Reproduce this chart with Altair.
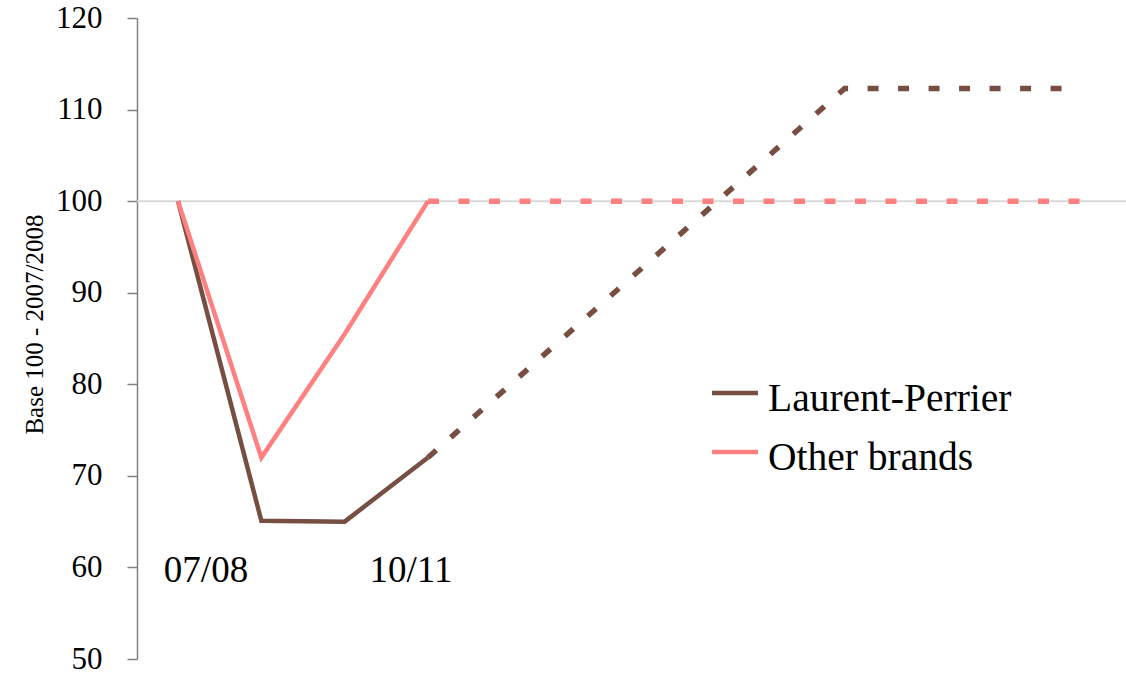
import altair as alt
import pandas as pd

# Season index: 0 = 2007/08, 3 = 2010/11, beyond = projection horizon
series_names = ["Laurent-Perrier", "Other brands"]
series_colors = ["#774E42", "#FF8080"]

actual_x = [0, 1, 2, 3]
lp_actual = [100.0, 65.1, 65.0, 72.0]
ob_actual = [100.0, 72.0, 85.5, 100.0]

lp_proj_x = [3, 8, 10.67]
lp_proj = [72.0, 112.3, 112.3]
ob_proj_x = [3, 10.85]
ob_proj = [100.0, 100.0]

season_labels = ["07/08", "10/11"]
season_label_x = [0, 3]

FONT = "Liberation Serif"


def frame(xs, ys, name):
    return pd.DataFrame({"x": xs, "value": ys, "series": name})


lp_a = frame(actual_x, lp_actual, series_names[0])
ob_a = frame(actual_x, ob_actual, series_names[1])
lp_p = frame(lp_proj_x, lp_proj, series_names[0])
ob_p = frame(ob_proj_x, ob_proj, series_names[1])

x_scale = alt.Scale(domain=[-0.492, 11.376], nice=False, zero=False)
y_scale = alt.Scale(domain=[50, 120], nice=False, zero=False)
color_scale = alt.Scale(domain=series_names, range=series_colors)

x_enc = alt.X("x:Q", scale=x_scale, axis=None)
y_enc = alt.Y(
    "value:Q",
    scale=y_scale,
    axis=alt.Axis(
        values=[50, 60, 70, 80, 90, 100, 110, 120],
        title="Base 100 - 2007/2008",
        titleFont=FONT,
        titleFontSize=25,
        titleFontWeight="normal",
        titleColor="black",
        titleAngle=-90,
        titleX=-95,
        titleY=306,
        titleAlign="center",
        titleBaseline="alphabetic",
        labelFont=FONT,
        labelFontSize=31,
        labelColor="black",
        labelPadding=25,
        tickSize=10,
        tickColor="#808080",
        tickWidth=1.5,
        domainColor="#808080",
        domainWidth=1.5,
        grid=False,
    ),
)

# Reference line at the base-100 level
base_line = (
    alt.Chart(pd.DataFrame({"value": [100]}))
    .mark_rule(color="#D9D9D9", strokeWidth=2)
    .encode(y=alt.Y("value:Q", scale=y_scale))
)


def solid(df):
    return (
        alt.Chart(df)
        .mark_line(strokeWidth=4.5, strokeJoin="miter")
        .encode(
            x=x_enc,
            y=y_enc,
            color=alt.Color("series:N", scale=color_scale, legend=None),
        )
    )


def dashed(df):
    return (
        alt.Chart(df)
        .mark_line(strokeWidth=5.5, strokeDash=[11, 19.5], strokeCap="butt")
        .encode(
            x=x_enc,
            y=y_enc,
            color=alt.Color("series:N", scale=color_scale, legend=None),
        )
    )


labels_df = pd.DataFrame({"x": season_label_x, "label": season_labels, "value": [58.4, 58.4]})
label_07 = (
    alt.Chart(labels_df.iloc[[0]])
    .mark_text(font=FONT, fontSize=37, color="black", baseline="alphabetic", align="center", dx=28)
    .encode(x=x_enc, y=alt.Y("value:Q", scale=y_scale), text="label:N")
)
label_10 = (
    alt.Chart(labels_df.iloc[[1]])
    .mark_text(font=FONT, fontSize=37, color="black", baseline="alphabetic", align="center", dx=-17)
    .encode(x=x_enc, y=alt.Y("value:Q", scale=y_scale), text="label:N")
)

# Legend: a short stroke swatch and a label per series
legend_layers = []
for i, (name, colour) in enumerate(zip(series_names, series_colors)):
    row_y = 375 + 59 * i
    swatch = (
        alt.Chart(pd.DataFrame({"series": [name]}))
        .mark_rule(color=colour, strokeWidth=4.5)
        .encode(x=alt.value(575), x2=alt.value(621), y=alt.value(row_y))
    )
    text = (
        alt.Chart(pd.DataFrame({"series": [name]}))
        .mark_text(font=FONT, fontSize=39.5, color="black", align="left", baseline="alphabetic")
        .encode(x=alt.value(631), y=alt.value(row_y + 18), text="series:N")
    )
    legend_layers += [swatch, text]

chart = (
    alt.layer(
        base_line,
        dashed(lp_p),
        dashed(ob_p),
        solid(lp_a),
        solid(ob_a),
        label_07,
        label_10,
        *legend_layers,
    )
    .properties(
        width=989,
        height=641,
        autosize=alt.AutoSizeParams(type="none"),
        padding={"left": 137, "top": 18, "right": 0, "bottom": 19},
        background="white",
    )
    .configure_view(stroke=None)
)

chart.save("out.html", embed_options={"renderer": "svg", "actions": False})
